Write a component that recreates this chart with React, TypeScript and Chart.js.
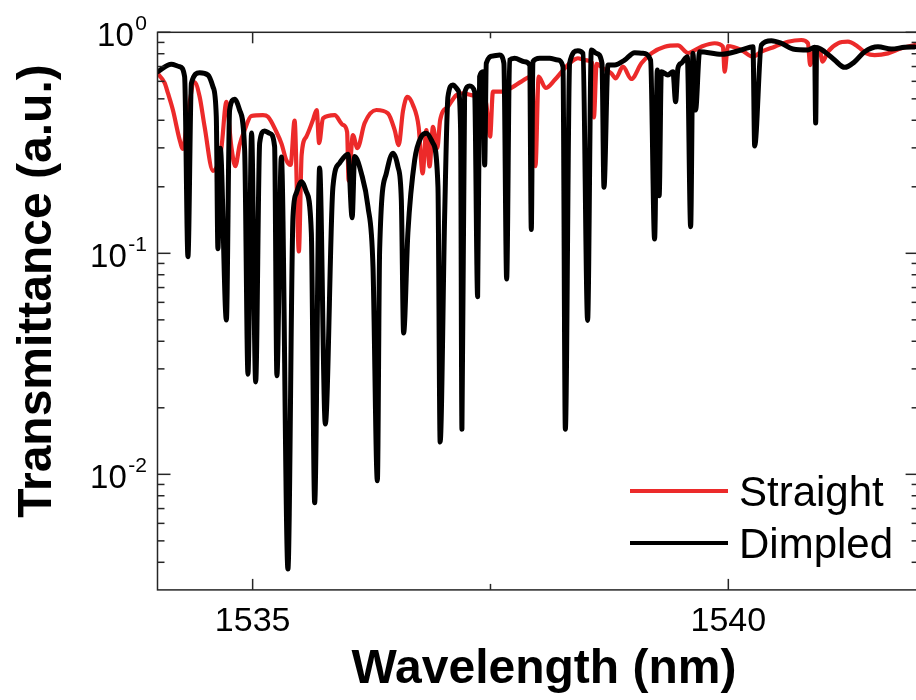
import React, { useEffect, useRef } from "react";
import { Chart, registerables } from "chart.js";

Chart.register(...registerables);

// ---------- data ----------
const straightWavelength = [
  1534.0, 1534.075, 1534.11, 1534.162, 1534.233, 1534.267, 1534.317, 1534.39, 1534.443, 1534.495,
  1534.583, 1534.671, 1534.724, 1534.776, 1534.818, 1534.863, 1534.916, 1534.986, 1535.108, 1535.161,
  1535.249, 1535.305, 1535.354, 1535.399, 1535.441, 1535.486, 1535.515, 1535.564, 1535.634, 1535.673,
  1535.699, 1535.739, 1535.862, 1535.949, 1535.993, 1536.009, 1536.054, 1536.101, 1536.177, 1536.3,
  1536.422, 1536.493, 1536.535, 1536.58, 1536.626, 1536.685, 1536.745, 1536.787, 1536.826, 1536.86,
  1536.895, 1536.941, 1536.971, 1537.053, 1537.141, 1537.211, 1537.299, 1537.404, 1537.454, 1537.496,
  1537.526, 1537.631, 1537.728, 1537.824, 1537.938, 1537.973, 1538.006, 1538.08, 1538.174, 1538.279,
  1538.35, 1538.419, 1538.49, 1538.569, 1538.587, 1538.616, 1538.682, 1538.77, 1538.816, 1538.892,
  1538.981, 1539.086, 1539.191, 1539.331, 1539.47, 1539.575, 1539.716, 1539.856, 1539.943, 1539.961,
  1539.996, 1540.137, 1540.259, 1540.347, 1540.487, 1540.627, 1540.767, 1540.837, 1540.86, 1540.907,
  1540.96, 1540.991, 1541.047, 1541.152, 1541.257, 1541.362, 1541.451, 1541.538, 1541.678, 1541.819,
  1541.958,
];
const straightTransmittance = [
  0.652, 0.59, 0.53, 0.445, 0.326, 0.297, 0.422, 0.593, 0.511, 0.374,
  0.236, 0.299, 0.484, 0.304, 0.248, 0.309, 0.361, 0.418, 0.422, 0.415,
  0.355, 0.312, 0.264, 0.251, 0.399, 0.102, 0.279, 0.337, 0.401, 0.445,
  0.315, 0.408, 0.422, 0.381, 0.354, 0.213, 0.343, 0.299, 0.388, 0.445,
  0.43, 0.361, 0.309, 0.44, 0.51, 0.469, 0.373, 0.23, 0.361, 0.247,
  0.373, 0.299, 0.401, 0.461, 0.52, 0.53, 0.52, 0.51, 0.479, 0.337,
  0.539, 0.539, 0.563, 0.598, 0.634, 0.248, 0.63, 0.56, 0.608, 0.687,
  0.736, 0.763, 0.749, 0.727, 0.412, 0.719, 0.687, 0.652, 0.619, 0.699,
  0.615, 0.724, 0.803, 0.861, 0.872, 0.806, 0.861, 0.892, 0.861, 0.663,
  0.867, 0.832, 0.775, 0.817, 0.861, 0.907, 0.923, 0.892, 0.711, 0.849,
  0.832, 0.736, 0.817, 0.892, 0.907, 0.861, 0.803, 0.789, 0.803, 0.846,
  0.876,
];

const dimpledWavelength = [
  1534.0, 1534.145, 1534.233, 1534.285, 1534.32, 1534.356, 1534.443, 1534.53, 1534.583, 1534.618,
  1534.635, 1534.66, 1534.724, 1534.758, 1534.811, 1534.863, 1534.916, 1534.951, 1534.989, 1535.032,
  1535.074, 1535.126, 1535.179, 1535.231, 1535.255, 1535.302, 1535.371, 1535.424, 1535.459, 1535.512,
  1535.564, 1535.617, 1535.652, 1535.704, 1535.764, 1535.844, 1535.914, 1536.002, 1536.046, 1536.072,
  1536.143, 1536.212, 1536.265, 1536.311, 1536.335, 1536.405, 1536.475, 1536.527, 1536.563, 1536.587,
  1536.632, 1536.703, 1536.773, 1536.826, 1536.895, 1536.948, 1536.971, 1537.018, 1537.053, 1537.105,
  1537.158, 1537.186, 1537.2, 1537.228, 1537.281, 1537.333, 1537.365, 1537.386, 1537.421, 1537.439,
  1537.456, 1537.526, 1537.596, 1537.641, 1537.67, 1537.701, 1537.754, 1537.859, 1537.912, 1537.929,
  1537.946, 1538.017, 1538.122, 1538.209, 1538.262, 1538.287, 1538.332, 1538.419, 1538.472, 1538.521,
  1538.56, 1538.613, 1538.672, 1538.693, 1538.735, 1538.805, 1538.91, 1539.015, 1539.102, 1539.183,
  1539.225, 1539.254, 1539.273, 1539.296, 1539.365, 1539.418, 1539.446, 1539.47, 1539.506, 1539.569,
  1539.604, 1539.628, 1539.656, 1539.698, 1539.927, 1540.137, 1540.259, 1540.277, 1540.347, 1540.452,
  1540.557, 1540.679, 1540.837, 1540.907, 1540.918, 1540.928, 1541.012, 1541.117, 1541.223, 1541.328,
  1541.433, 1541.573, 1541.713, 1541.853, 1541.958,
];
const dimpledTransmittance = [
  0.663, 0.717, 0.699, 0.63, 0.0965, 0.588, 0.656, 0.641, 0.567, 0.415,
  0.105, 0.299, 0.0499, 0.445, 0.498, 0.445, 0.293, 0.0284, 0.35, 0.0262,
  0.316, 0.358, 0.349, 0.304, 0.0279, 0.273, 0.00373, 0.146, 0.187, 0.211,
  0.19, 0.124, 0.00744, 0.243, 0.0169, 0.2, 0.256, 0.281, 0.145, 0.274,
  0.23, 0.163, 0.087, 0.00935, 0.104, 0.23, 0.284, 0.247, 0.174, 0.0436,
  0.124, 0.264, 0.337, 0.349, 0.315, 0.2, 0.014, 0.146, 0.511, 0.578,
  0.548, 0.361, 0.016, 0.53, 0.572, 0.539, 0.0636, 0.63, 0.663, 0.251,
  0.724, 0.781, 0.789, 0.724, 0.0765, 0.749, 0.763, 0.736, 0.711, 0.128,
  0.736, 0.763, 0.763, 0.749, 0.699, 0.016, 0.724, 0.826, 0.803, 0.0497,
  0.832, 0.803, 0.724, 0.199, 0.711, 0.711, 0.749, 0.809, 0.803, 0.749,
  0.116, 0.675, 0.182, 0.663, 0.641, 0.663, 0.485, 0.687, 0.724, 0.775,
  0.132, 0.803, 0.445, 0.817, 0.795, 0.832, 0.861, 0.306, 0.876, 0.916,
  0.892, 0.84, 0.832, 0.855, 0.389, 0.853, 0.817, 0.749, 0.694, 0.736,
  0.817, 0.861, 0.84, 0.855, 0.858,
];

const seriesLabels = ["Straight", "Dimpled"];
const seriesColors = ["#EC2A2A", "#000000"];

const xMajorTicks = [1535, 1540];
const xMinorTicks = [1537.5];
const yMajorTicks = [0.01, 0.1, 1];
const yMajorExponents = ["-2", "-1", "0"];
const yMinorTicks = [
  0.004, 0.005, 0.006, 0.007, 0.008, 0.009,
  0.02, 0.03, 0.04, 0.05, 0.06, 0.07, 0.08, 0.09,
  0.2, 0.3, 0.4, 0.5, 0.6, 0.7, 0.8, 0.9,
];

const xTitle = "Wavelength (nm)";
const yTitle = "Transmittance (a.u.)";

const FAMILY = '"Liberation Sans", Arial, Helvetica, sans-serif';

const framePlugin = {
  id: "framePlugin",
  afterDraw(chart: any) {
    const { ctx, chartArea: a, scales } = chart;
    const xs = scales.x;
    const ys = scales.y;
    ctx.save();

    // frame
    ctx.strokeStyle = "#262626";
    ctx.lineWidth = 1.5;
    ctx.strokeRect(a.left, a.top, a.right - a.left, a.bottom - a.top);

    const seg = (x1: number, y1: number, x2: number, y2: number) => {
      ctx.beginPath();
      ctx.moveTo(x1, y1);
      ctx.lineTo(x2, y2);
      ctx.stroke();
    };

    // inward ticks
    xMajorTicks.forEach((v) => {
      const px = xs.getPixelForValue(v);
      seg(px, a.bottom, px, a.bottom - 11);
      seg(px, a.top, px, a.top + 11);
    });
    xMinorTicks.forEach((v) => {
      const px = xs.getPixelForValue(v);
      seg(px, a.bottom, px, a.bottom - 6);
      seg(px, a.top, px, a.top + 6);
    });
    yMajorTicks.forEach((v) => {
      const py = ys.getPixelForValue(v);
      seg(a.left, py, a.left + 13, py);
      seg(a.right, py, a.right - 13, py);
    });
    yMinorTicks.forEach((v) => {
      const py = ys.getPixelForValue(v);
      seg(a.left, py, a.left + 7, py);
      seg(a.right, py, a.right - 7, py);
    });

    // y tick labels with superscript exponents
    ctx.fillStyle = "#000";
    ctx.textAlign = "right";
    ctx.textBaseline = "alphabetic";
    yMajorTicks.forEach((v, i) => {
      const py = ys.getPixelForValue(v);
      const exp = yMajorExponents[i];
      ctx.font = `21px ${FAMILY}`;
      const expW = ctx.measureText(exp).width;
      ctx.fillText(exp, a.left - 10.5, py - 2);
      ctx.font = `33px ${FAMILY}`;
      ctx.fillText("10", a.left - 10.5 - expW - 1.5, py + 14);
    });

    // axis titles
    ctx.font = `bold 48px ${FAMILY}`;
    ctx.textAlign = "center";
    ctx.textBaseline = "alphabetic";
    ctx.fillText(xTitle, 544, 683);

    ctx.save();
    ctx.translate(50.5, 291);
    ctx.rotate(-Math.PI / 2);
    ctx.fillText(yTitle, 0, 0);
    ctx.restore();

    // legend
    const legendRows = [491, 543];
    seriesLabels.forEach((label, i) => {
      const ly = legendRows[i];
      ctx.strokeStyle = seriesColors[i];
      ctx.lineWidth = 4;
      ctx.lineCap = "butt";
      seg(630, ly, 728, ly);
      ctx.fillStyle = "#000";
      ctx.font = `42px ${FAMILY}`;
      ctx.textAlign = "left";
      ctx.fillText(label, 739, ly + 14.5);
    });

    ctx.restore();
  },
};

export default function App() {
  const ref = useRef<HTMLCanvasElement | null>(null);

  useEffect(() => {
    const canvas = ref.current;
    if (!canvas) return;
    const straight = straightWavelength.map((x, i) => ({ x, y: straightTransmittance[i] }));
    const dimpled = dimpledWavelength.map((x, i) => ({ x, y: dimpledTransmittance[i] }));

    const chart = new Chart(canvas, {
      type: "line",
      data: {
        datasets: [
          {
            label: seriesLabels[0],
            data: straight,
            borderColor: seriesColors[0],
            backgroundColor: seriesColors[0],
            borderWidth: 4.2,
            pointRadius: 0,
            cubicInterpolationMode: "monotone",
            borderJoinStyle: "round",
            borderCapStyle: "round",
            order: 1,
          },
          {
            label: seriesLabels[1],
            data: dimpled,
            borderColor: seriesColors[1],
            backgroundColor: seriesColors[1],
            borderWidth: 5,
            pointRadius: 0,
            cubicInterpolationMode: "monotone",
            borderJoinStyle: "round",
            borderCapStyle: "round",
            order: 0,
          },
        ],
      },
      options: {
        responsive: false,
        animation: false,
        devicePixelRatio: 1,
        events: [],
        layout: { padding: { top: 32.3, right: 11.4, left: 0, bottom: 0 } },
        plugins: {
          legend: { display: false },
          tooltip: { enabled: false },
          title: { display: false },
        },
        scales: {
          x: {
            type: "linear",
            min: 1534,
            max: 1542,
            grid: { display: false },
            border: { display: false },
            afterBuildTicks: (s: any) => {
              s.ticks = xMajorTicks.map((v) => ({ value: v }));
            },
            afterFit: (s: any) => {
              s.height = 110.1;
            },
            ticks: {
              color: "#000",
              padding: 3,
              maxRotation: 0,
              autoSkip: false,
              font: { family: FAMILY, size: 34 },
              callback: (v: any) => String(v),
            },
          },
          y: {
            type: "logarithmic",
            min: 0.003,
            max: 1,
            grid: { display: false },
            border: { display: false },
            ticks: { display: false },
            afterFit: (s: any) => {
              s.width = 157.5;
            },
          },
        },
      } as any,
      plugins: [framePlugin],
    });
    return () => chart.destroy();
  }, []);

  return (
    <div
      style={{
        position: "fixed",
        left: 0,
        top: 0,
        width: 916,
        height: 700,
        overflow: "hidden",
        background: "#fff",
      }}
    >
      <canvas ref={ref} width={930} height={700} style={{ display: "block", width: 930, height: 700 }} />
    </div>
  );
}
